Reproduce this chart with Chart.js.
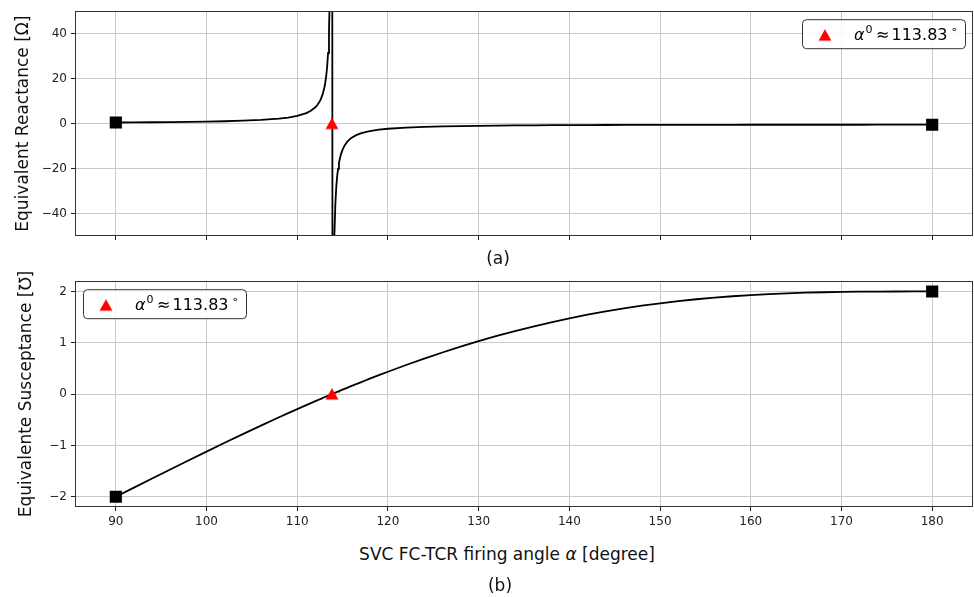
<!DOCTYPE html>
<html>
<head>
<meta charset="utf-8">
<script src="https://cdn.jsdelivr.net/npm/chart.js@4/dist/chart.umd.min.js"></script>
<style>
  html, body { margin: 0; padding: 0; background: #ffffff; }
  body { width: 974px; height: 597px; position: relative; overflow: hidden; font-family: 'DejaVu Sans', sans-serif; color: #111; }
  canvas { position: absolute; left: 0; }
  .lbl { position: absolute; font-size: 17px; line-height: 20px; white-space: nowrap; transform: translateX(-50%); }
</style>
</head>
<body>
<canvas id="top" width="974" height="250" style="top:0px"></canvas>
<canvas id="bot" width="974" height="270" style="top:270px"></canvas>
<div class="lbl" style="left:498px; top:248px;">(a)</div>
<div class="lbl" style="left:507px; top:544px;">SVC FC-TCR firing angle <i>α</i> [degree]</div>
<div class="lbl" style="left:500px; top:575px;">(b)</div>
<script>
// ---------------- data ----------------
const angles = [90, 92, 94, 96, 98, 100, 102, 104, 106, 108,
  109, 110, 111, 111.5, 112, 112.2, 112.5, 112.6, 112.8, 113,
  113.1, 113.2, 113.3, 113.4, 113.5, 113.6, 113.7, 113.8,
  113.9, 113.95, 114, 114.1, 114.2, 114.3, 114.4, 114.5, 114.6, 114.8,
  115, 115.2, 115.5, 115.8, 116, 116.5, 117, 117.5, 118, 119,
  120, 122, 124, 126, 128, 130, 132, 134, 136, 138, 140, 142, 144, 146, 148, 150,
  152, 154, 156, 158, 160, 162, 164, 166, 168, 170, 172, 174, 176, 178, 180];
const reactance = [0.500, 0.549, 0.608, 0.681, 0.773, 0.893, 1.054, 1.282, 1.628, 2.214,
  2.69, 3.416, 4.66, 5.68, 7.26, 8.16, 10.03, 10.86, 12.99, 16.16,
  18.4, 21.3, 25.4, 31.4, 41.0, 59.1, 105.8, 500,
  -183.8, -109, -77.8, -49.3, -36.1, -28.5, -23.5, -20.1, -17.5, -13.9,
  -11.56, -9.89, -8.14, -6.92, -6.29, -5.14, -4.35, -3.77, -3.333, -2.71,
  -2.294, -1.765, -1.446, -1.233, -1.082, -0.969, -0.883, -0.814, -0.759, -0.714, -0.677, -0.647, -0.621, -0.599, -0.581, -0.565,
  -0.552, -0.541, -0.532, -0.524, -0.518, -0.513, -0.509, -0.506, -0.504, -0.502, -0.501, -0.500, -0.500, -0.500, -0.500];
const susceptance = [-2.000, -1.822, -1.645, -1.469, -1.294, -1.120, -0.949, -0.780, -0.614, -0.452,
  -0.372, -0.293, -0.215, -0.176, -0.138, -0.1225, -0.0997, -0.0921, -0.077, -0.0619,
  -0.0544, -0.0469, -0.0394, -0.0319, -0.0244, -0.0169, -0.0095, -0.0020,
  0.0054, 0.0092, 0.0129, 0.0203, 0.0277, 0.0351, 0.0425, 0.0498, 0.0572, 0.0718,
  0.0865, 0.1011, 0.1228, 0.1445, 0.1589, 0.1947, 0.2301, 0.2652, 0.300, 0.3687,
  0.436, 0.567, 0.692, 0.811, 0.924, 1.032, 1.133, 1.228, 1.317, 1.400, 1.476, 1.547, 1.611, 1.669, 1.722, 1.769,
  1.811, 1.848, 1.880, 1.907, 1.930, 1.948, 1.964, 1.976, 1.985, 1.991, 1.995, 1.998, 1.999, 2.000, 2.000];
const endAngles = [90, 180];
const endReactance = [0.5, -0.5];
const endSusceptance = [-2, 2];
const resonanceAngle = [113.83];
const resonanceValue = [0];
const legendLabel = 'α⁰ ≈ 113.83°';
const xTicks = [90, 100, 110, 120, 130, 140, 150, 160, 170, 180];
const reactanceTicks = [-40, -20, 0, 20, 40];
const susceptanceTicks = [-2, -1, 0, 1, 2];
// ------------------------------------------------------------

const FONT = "'DejaVu Sans', sans-serif";
Chart.defaults.font.family = FONT;
Chart.defaults.color = '#222';

function pts(xs, ys) { return xs.map((x, i) => ({ x: x, y: ys[i] })); }

// matplotlib-like triangle marker (bbox centred)
const tri = document.createElement('canvas');
tri.width = 14; tri.height = 14;
(function () {
  const c = tri.getContext('2d');
  c.fillStyle = '#ff0000';
  c.beginPath(); c.moveTo(7, 1); c.lineTo(13.5, 12.5); c.lineTo(0.5, 12.5); c.closePath(); c.fill();
})();

const fmt = v => String(v).replace('-', '\u2212');

const framePlugin = {
  id: 'frame',
  afterDatasetsDraw(chart) {
    const a = chart.chartArea, ctx = chart.ctx;
    ctx.save();
    ctx.strokeStyle = '#333';
    ctx.lineWidth = 1;
    const l = Math.floor(a.left) + 0.5, t = Math.floor(a.top) + 0.5;
    const r = Math.ceil(a.right) - 0.5, b = Math.ceil(a.bottom) - 0.5;
    ctx.strokeRect(l, t, r - l, b - t);
    ctx.restore();
  }
};

const legendPlugin = {
  id: 'mplLegend',
  afterDraw(chart, args, opts) {
    const a = chart.chartArea, ctx = chart.ctx;
    const w = 163, h = 29;
    const left = opts.corner === 'right' ? a.right - 8 - w : a.left + 8;
    const top = a.top + 8;
    ctx.save();
    ctx.fillStyle = 'rgba(255,255,255,0.85)';
    ctx.strokeStyle = '#333';
    ctx.lineWidth = 1;
    const rr = 4, x0 = left + 0.5, y0 = top + 0.5;
    ctx.beginPath();
    ctx.moveTo(x0 + rr, y0);
    ctx.lineTo(x0 + w - rr, y0); ctx.quadraticCurveTo(x0 + w, y0, x0 + w, y0 + rr);
    ctx.lineTo(x0 + w, y0 + h - rr); ctx.quadraticCurveTo(x0 + w, y0 + h, x0 + w - rr, y0 + h);
    ctx.lineTo(x0 + rr, y0 + h); ctx.quadraticCurveTo(x0, y0 + h, x0, y0 + h - rr);
    ctx.lineTo(x0, y0 + rr); ctx.quadraticCurveTo(x0, y0, x0 + rr, y0);
    ctx.closePath(); ctx.fill(); ctx.stroke();
    // marker
    ctx.drawImage(tri, left + 23 - 7, top + 16 - 7);
    // text  α⁰ ≈ 113.83°
    const base = top + 20.5;
    ctx.fillStyle = '#000';
    ctx.textBaseline = 'alphabetic';
    ctx.textAlign = 'left';
    ctx.font = 'italic 16px ' + FONT;
    ctx.fillText('α', left + 52, base);
    ctx.font = '11px ' + FONT;
    ctx.fillText('0', left + 63.5, base - 6.5);
    ctx.font = '16px ' + FONT;
    ctx.fillText('≈', left + 74, base);
    ctx.fillText('113.83', left + 89.5, base);
    ctx.font = '11px ' + FONT;
    ctx.fillText('∘', left + 148.5, base - 6.5);
    ctx.restore();
  }
};

function xScale(showLabels, height) {
  return {
    type: 'linear', min: 85.5, max: 184.5,
    afterBuildTicks: s => { s.ticks = xTicks.map(v => ({ value: v })); },
    afterFit: s => { s.height = height; },
    ticks: { display: showLabels, autoSkip: false, maxRotation: 0, padding: 4, color: '#222', font: { size: 12 }, callback: v => fmt(v) },
    grid: { color: '#c9c9c9', lineWidth: 1, drawTicks: true, tickLength: 4, tickColor: '#222' },
    border: { display: false }
  };
}
function yScale(min, max, ticks, title, titlePad) {
  return {
    type: 'linear', min: min, max: max,
    afterBuildTicks: s => { s.ticks = ticks.map(v => ({ value: v })); },
    afterFit: s => { s.width = 75; },
    ticks: { autoSkip: false, padding: 4, color: '#222', font: { size: 12 }, callback: v => fmt(v) },
    grid: { color: '#c9c9c9', lineWidth: 1, drawTicks: true, tickLength: 4, tickColor: '#222' },
    border: { display: false },
    title: { display: true, text: title, color: '#111', font: { size: 17 }, padding: { top: titlePad, bottom: 0 } }
  };
}

function build(id, ys, endYs, yMin, yMax, yTicks, yTitle, titlePad, showX, xHeight, corner) {
  return new Chart(document.getElementById(id), {
    type: 'line',
    data: {
      datasets: [
        { label: legendLabel, data: pts(resonanceAngle, resonanceValue), showLine: false,
          pointStyle: tri, pointRadius: 7, pointHoverRadius: 7, order: 0 },
        { label: 'ends', data: pts(endAngles, endYs), showLine: false, pointStyle: 'rect',
          pointRadius: 8.6, pointHoverRadius: 8.6, backgroundColor: '#000', borderColor: '#000', borderWidth: 0, order: 1 },
        { label: 'curve', data: pts(angles, ys), borderColor: '#000', borderWidth: 1.8, pointRadius: 0,
          tension: 0, fill: false, order: 2 }
      ]
    },
    options: {
      responsive: false, animation: false, devicePixelRatio: 1,
      layout: { autoPadding: false, padding: { top: 11, right: 1, left: 0, bottom: 0 } },
      scales: { x: xScale(showX, xHeight), y: yScale(yMin, yMax, yTicks, yTitle, titlePad) },
      plugins: { legend: { display: false }, tooltip: { enabled: false }, mplLegend: { corner: corner } },
      events: []
    },
    plugins: [framePlugin, legendPlugin]
  });
}

build('top', reactance, endReactance, -50, 50, reactanceTicks, 'Equivalent Reactance [Ω]', 13, false, 14, 'right');
build('bot', susceptance, endSusceptance, -2.2, 2.2, susceptanceTicks, 'Equivalente Susceptance [℧]', 16, true, 33, 'left');
</script>
</body>
</html>
